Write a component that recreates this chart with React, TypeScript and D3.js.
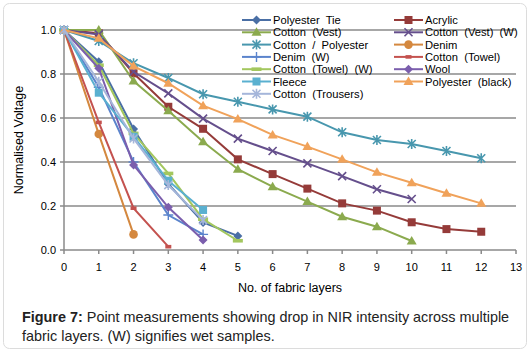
import * as d3 from "d3";
import React from "react";

// fabric series (x = number of layers, starting at 0)
const seriesNames = [
  "Polyester  Tie", "Acrylic", "Cotton  (Vest)", "Cotton  (Vest)  (W)",
  "Cotton  /  Polyester", "Denim", "Denim  (W)", "Cotton  (Towel)",
  "Cotton  (Towel)  (W)", "Wool", "Fleece", "Polyester  (black)", "Cotton  (Trousers)",
];
const seriesColors = [
  "#4A6FA5", "#953B39", "#8BAA4E", "#654F8C", "#4897AE", "#D4883F", "#5B84CC",
  "#C4524F", "#A3C75E", "#7B5EAD", "#5AB0D0", "#F0A25A", "#A5B6DA",
];
const seriesMarkers = [
  "diamond", "square", "triangle", "cross", "star", "circle", "plus",
  "dash", "bar", "diamond", "square", "triangle", "star",
];

const polyesterTie = [1.0, 0.856, 0.55, 0.30, 0.125, 0.064];
const acrylic = [1.0, 0.985, 0.803, 0.651, 0.551, 0.412, 0.345, 0.279, 0.212, 0.179, 0.126, 0.095, 0.083];
const cottonVest = [1.0, 1.0, 0.768, 0.633, 0.492, 0.367, 0.288, 0.22, 0.151, 0.106, 0.041];
const cottonVestW = [1.0, 0.98, 0.81, 0.712, 0.597, 0.506, 0.45, 0.394, 0.336, 0.276, 0.232];
const cottonPolyester = [1.0, 0.95, 0.849, 0.782, 0.708, 0.674, 0.639, 0.606, 0.535, 0.5, 0.482, 0.45, 0.417];
const denim = [1.0, 0.527, 0.071];
const denimW = [1.0, 0.74, 0.40, 0.159, 0.071];
const cottonTowel = [1.0, 0.58, 0.19, 0.015];
const cottonTowelW = [1.0, 0.84, 0.53, 0.348, 0.14, 0.042];
const wool = [1.0, 0.826, 0.386, 0.194, 0.045];
const fleece = [1.0, 0.715, 0.515, 0.315, 0.182];
const polyesterBlack = [1.0, 0.962, 0.836, 0.758, 0.656, 0.595, 0.523, 0.47, 0.412, 0.353, 0.306, 0.258, 0.212];
const cottonTrousers = [1.0, 0.765, 0.507, 0.295, 0.136];

const allValues = [
  polyesterTie, acrylic, cottonVest, cottonVestW, cottonPolyester, denim, denimW,
  cottonTowel, cottonTowelW, wool, fleece, polyesterBlack, cottonTrousers,
];

const xTicks = d3.range(0, 14);
const yTicks = [0, 0.2, 0.4, 0.6, 0.8, 1.0];

const FONT = "'Liberation Sans', Arial, sans-serif";

const Marker = ({ type, x, y, color }: { type: string; x: number; y: number; color: string }) => {
  switch (type) {
    case "diamond":
      return <path d={`M${x},${y - 4.5}L${x + 4.5},${y}L${x},${y + 4.5}L${x - 4.5},${y}Z`} fill={color} />;
    case "square":
      return <rect x={x - 4} y={y - 4} width={8} height={8} fill={color} />;
    case "triangle":
      return <path d={`M${x},${y - 5}L${x + 5},${y + 3.5}L${x - 5},${y + 3.5}Z`} fill={color} />;
    case "circle":
      return <circle cx={x} cy={y} r={4.3} fill={color} />;
    case "cross":
      return (
        <path d={`M${x - 4},${y - 4}L${x + 4},${y + 4}M${x - 4},${y + 4}L${x + 4},${y - 4}`}
          stroke={color} strokeWidth={1.6} fill="none" />
      );
    case "star":
      return (
        <path d={`M${x - 4},${y - 4}L${x + 4},${y + 4}M${x - 4},${y + 4}L${x + 4},${y - 4}M${x},${y - 5}L${x},${y + 5}`}
          stroke={color} strokeWidth={1.6} fill="none" />
      );
    case "plus":
      return (
        <path d={`M${x - 5},${y}L${x + 5},${y}M${x},${y - 5}L${x},${y + 5}`}
          stroke={color} strokeWidth={1.4} fill="none" />
      );
    case "dash":
      return <rect x={x - 3} y={y - 1.8} width={6} height={3.6} fill={color} />;
    case "bar":
      return <rect x={x - 5} y={y - 1.8} width={10} height={3.6} fill={color} />;
    default:
      return null;
  }
};

const App = () => {
  const margin = { top: 30, right: 14, bottom: 102, left: 64 };
  const width = 530;
  const height = 352;

  const x = d3.scaleLinear().domain([0, 13]).range([margin.left, width - margin.right]);
  const y = d3.scaleLinear().domain([0, 1]).range([height - margin.bottom, margin.top]);

  const line = d3
    .line<number>()
    .x((_, i) => x(i))
    .y((d) => y(d));

  const gridColor = "#8A8A8A";

  return (
    <svg width={width} height={height} style={{ position: "absolute", left: 0, top: 0 }}>
      <rect x={3.5} y={3.5} width={523} height={345} rx={6} fill="#fff" stroke="#DCDCDC" />

      {/* gridlines */}
      {yTicks.map((t) => (
        <line key={t} x1={x(0)} x2={x(13)} y1={y(t)} y2={y(t)} stroke={gridColor} strokeWidth={1.5} />
      ))}
      {/* y axis */}
      <line x1={x(0)} x2={x(0)} y1={y(0)} y2={y(1)} stroke={gridColor} strokeWidth={1.5} />
      {yTicks.map((t) => (
        <g key={t}>
          <line x1={x(0) - 4} x2={x(0)} y1={y(t)} y2={y(t)} stroke={gridColor} strokeWidth={1.5} />
          <text x={x(0) - 8} y={y(t)} dy="0.35em" textAnchor="end" fontSize={11} fontFamily={FONT} fill="#000">
            {t.toFixed(1)}
          </text>
        </g>
      ))}
      {/* x axis */}
      {xTicks.map((t) => (
        <g key={t}>
          <line x1={x(t)} x2={x(t)} y1={y(0)} y2={y(0) + 4} stroke={gridColor} strokeWidth={1.5} />
          <text x={x(t)} y={y(0) + 21} textAnchor="middle" fontSize={11} fontFamily={FONT} fill="#000">
            {t}
          </text>
        </g>
      ))}

      <text x={290} y={292} textAnchor="middle" fontSize={12.5} fontFamily={FONT} fill="#000">
        No. of fabric layers
      </text>
      <text
        transform={`translate(23,${y(0.5)}) rotate(-90)`}
        textAnchor="middle"
        fontSize={12.5}
        fontFamily={FONT}
        fill="#000"
      >
        Normalised Voltage
      </text>

      {/* series */}
      {allValues.map((vals, si) => (
        <g key={si}>
          <path d={line(vals) || ""} fill="none" stroke={seriesColors[si]} strokeWidth={2} />
          {vals.map((v, i) => (
            <Marker key={i} type={seriesMarkers[si]} x={x(i)} y={y(v)} color={seriesColors[si]} />
          ))}
        </g>
      ))}

      {/* legend */}
      {seriesNames.map((name, si) => {
        const col = si % 2;
        const row = Math.floor(si / 2);
        const lx = col === 0 ? 242 : 394;
        const ly = 20 + row * 12.3;
        return (
          <g key={name}>
            <line x1={lx} x2={lx + 29} y1={ly} y2={ly} stroke={seriesColors[si]} strokeWidth={2} />
            <Marker type={seriesMarkers[si]} x={lx + 14.5} y={ly} color={seriesColors[si]} />
            <text x={lx + 31} y={ly} dy="0.36em" fontSize={11.2} fontFamily={FONT} fill="#000"
              style={{ whiteSpace: "pre" }}>
              {name}
            </text>
          </g>
        );
      })}

      {/* caption */}
      <text x={22} y={322} fontSize={14.4} fontFamily={FONT} fill="#222">
        <tspan fontWeight="bold">Figure 7:</tspan> Point measurements showing drop in NIR intensity across multiple
      </text>
      <text x={22} y={341} fontSize={14.4} fontFamily={FONT} fill="#222">
        fabric layers. (W) signifies wet samples.
      </text>
    </svg>
  );
};

export default App;
